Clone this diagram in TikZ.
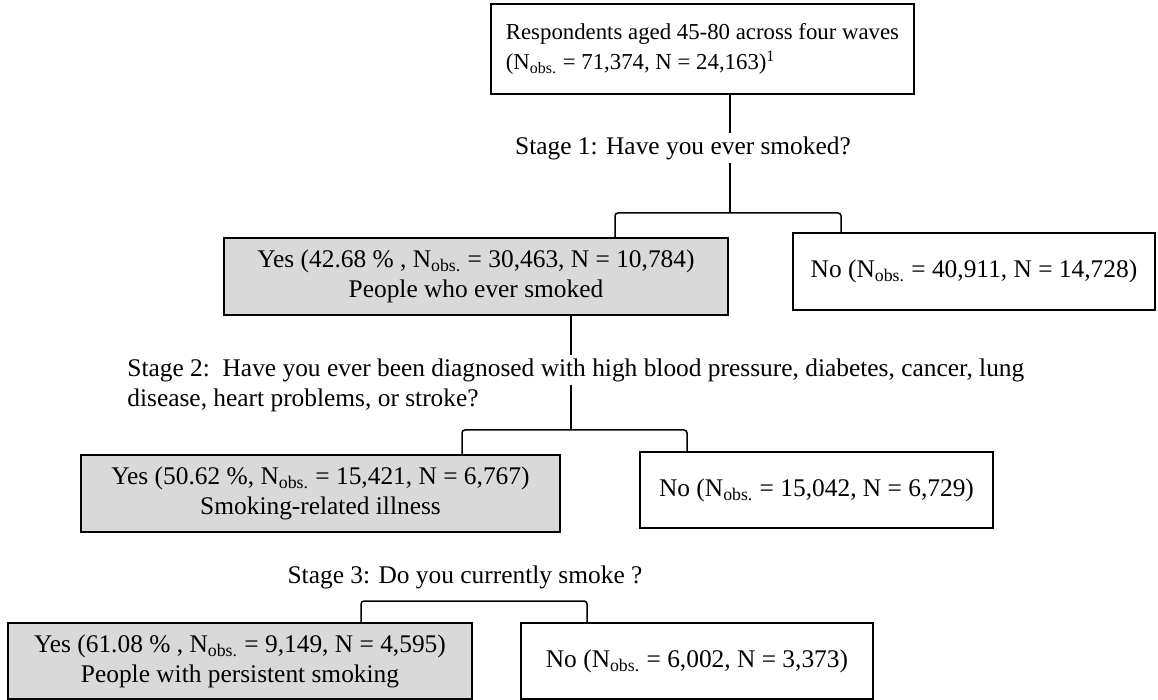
\documentclass[tikz,border=0pt]{standalone}
\usepackage{fontspec}
\setmainfont{Liberation Serif}
\usetikzlibrary{positioning}
\definecolor{boxgray}{HTML}{D9D9D9}
\tikzset{
	box/.style = {draw, line width = 1pt, minimum height = 38.5pt, align = center, inner sep = 0pt},
	yesbox/.style = {box, fill = boxgray},
	stage/.style = {inner xsep = 0pt, inner ysep = 1.6pt},
	link/.style = {line width = 0.75pt}
}
\newcommand{\Nobs}{N\textsubscript{obs.}}

\begin{document}
\begin{tikzpicture}[x = 0.5pt, y = -0.5pt, font = \fontsize{12.7}{15}\selectfont]
	\useasboundingbox (0,0) rectangle (1158,700);

	\node [box, minimum width = 211.5pt, minimum height = 45pt, align = left, font = \fontsize{11.4}{15}\selectfont] (sample) at (702.5,49) {Respondents aged 45-80 across four waves\\(\Nobs{} = 71,374,\ N = 24,163)\textsuperscript{1}};
	\node [stage] (q1) at (683,148) {Stage 1: Have you ever smoked?};
	\node [yesbox, minimum width = 252pt] (yes1) at (476,276.5) {Yes (42.68 \% , \Nobs{} = 30,463,\ N = 10,784)\\People who ever smoked};
	\node [box, minimum width = 181pt] (no1) at (974,271.5) {No (\Nobs{} = 40,911,\ N = 14,728)};
	\node [stage, anchor = west] (q2) at (127,370) {Stage 2:\ \ Have you ever been diagnosed with high blood pressure, diabetes, cancer, lung};
	\node [stage, anchor = west] (q2b) at (127,400) {disease, heart problems, or stroke?};
	\node [yesbox, minimum width = 239.5pt] (yes2) at (320.5,493.5) {Yes (50.62 \%, \Nobs{} = 15,421,\ N = 6,767)\\Smoking-related illness};
	\node [box, minimum width = 176.5pt, minimum height = 38pt] (no2) at (816.5,490) {No (\Nobs{} = 15,042,\ N = 6,729)};
	\node [stage] (q3) at (465,577) {Stage 3: Do you currently smoke ?};
	\node [yesbox, minimum width = 232pt, minimum height = 38pt] (yes3) at (240,661) {Yes (61.08 \% , \Nobs{} = 9,149,\ N = 4,595)\\People with persistent smoking};
	\node [box, minimum width = 176pt, minimum height = 38pt] (no3) at (697,661) {No (\Nobs{} = 6,002,\ N = 3,373)};

	\coordinate (j1) at (730,213);
	\coordinate (j2) at (571,430);
	\coordinate (l1) at (615,213);
	\coordinate (r1) at (841,213);
	\coordinate (l2) at (462,430);
	\coordinate (r2) at (687,430);
	\coordinate (l3) at (361,601);
	\coordinate (r3) at (587,601);

	\draw [link] (sample.south -| j1) -- (q1.north -| j1);
	\draw [link] (q1.south -| j1) -- (j1);
	\draw [link] (yes1.south -| j2) -- (q2.north -| j2);
	\draw [link] (q2.south -| j2) -- (j2);
	\foreach \i in {1,2,3}{
			\draw [link, rounded corners = 1.5pt] (yes\i.north -| l\i) -- (l\i) -- (r\i) -- (no\i.north -| r\i);
		}
\end{tikzpicture}
\end{document}
